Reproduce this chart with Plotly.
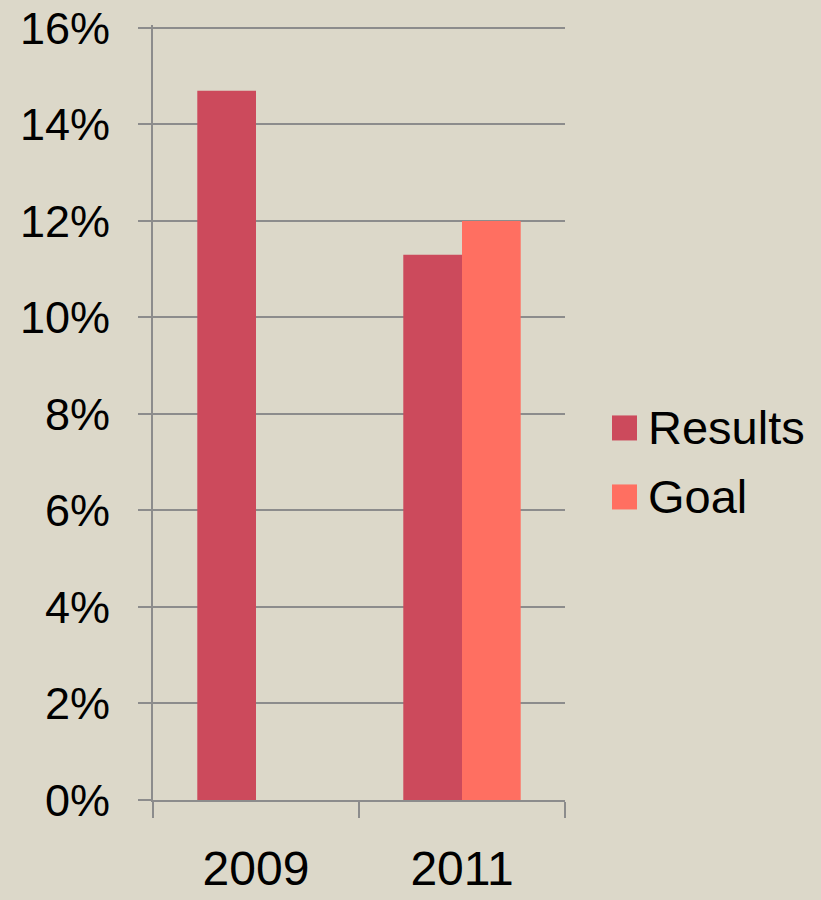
import plotly.graph_objects as go

# Share of respondents, in percent
years = ["2009", "2011"]
results = [14.7, 11.3]
goal = [None, 12.0]

y_ticks = [0, 2, 4, 6, 8, 10, 12, 14, 16]
y_tick_labels = [f"{v}%" for v in y_ticks]

RESULTS_COLOR = "#cc4a5c"
GOAL_COLOR = "#ff6f61"
GRID_COLOR = "#8c8c8c"
BG = "#dcd8c9"
FONT = "Liberation Sans, Arial, sans-serif"

W, H = 821, 900
TOP, BOTTOM = 28, 800          # pixel rows of 16% and 0%
Y_MAX = 16.06                  # small headroom so the 16% gridline is drawn
px_per_unit = (BOTTOM - TOP) / 16
top_margin = TOP - (Y_MAX - 16) * px_per_unit

fig = go.Figure()

fig.add_trace(go.Bar(name="Results", x=years, y=results,
                     marker=dict(color=RESULTS_COLOR, line_width=0),
                     showlegend=False))
fig.add_trace(go.Bar(name="Goal", x=years, y=goal,
                     marker=dict(color=GOAL_COLOR, line_width=0),
                     showlegend=False))

# Legend: large square swatches with labels, placed right of the plot
legend_items = [("Results", RESULTS_COLOR, 428), ("Goal", GOAL_COLOR, 497)]
shapes, annotations = [], []
for name, color, yc in legend_items:
    shapes.append(dict(type="rect", xref="paper", yref="paper",
                       x0=(612 - 153) / (565 - 153), x1=(637 - 153) / (565 - 153),
                       y0=(BOTTOM - (yc + 12.5)) / (BOTTOM - top_margin),
                       y1=(BOTTOM - (yc - 12.5)) / (BOTTOM - top_margin),
                       fillcolor=color, line_width=0))
    annotations.append(dict(text=name, xref="paper", yref="paper",
                            x=(646 - 153) / (565 - 153),
                            y=(BOTTOM - yc) / (BOTTOM - top_margin),
                            xanchor="left", yanchor="middle", showarrow=False,
                            font=dict(size=47, family=FONT, color="black")))

fig.update_layout(
    width=W, height=H,
    margin=dict(l=153, r=W - 565, t=top_margin, b=H - BOTTOM, pad=0),
    paper_bgcolor=BG, plot_bgcolor=BG,
    font=dict(family=FONT, color="black"),
    barmode="group", bargap=0.43, bargroupgap=0,
    showlegend=False,
    shapes=shapes, annotations=annotations,
    xaxis=dict(
        type="category", automargin=False,
        showline=True, linecolor=GRID_COLOR, linewidth=2,
        ticks="outside", tickson="boundaries", ticklen=16,
        tickcolor=GRID_COLOR, tickwidth=2,
        tickfont=dict(size=48, family=FONT),
        ticklabelstandoff=25,
        showgrid=False,
    ),
    yaxis=dict(
        range=[0, Y_MAX], tickvals=y_ticks, ticktext=y_tick_labels,
        automargin=False,
        showline=True, linecolor=GRID_COLOR, linewidth=2,
        showgrid=True, gridcolor=GRID_COLOR, gridwidth=2,
        zeroline=False,
        ticks="outside", ticklen=13, tickcolor=GRID_COLOR, tickwidth=2,
        tickfont=dict(size=45, family=FONT),
        ticklabelstandoff=19,
    ),
)

fig.write_html("out.html")
